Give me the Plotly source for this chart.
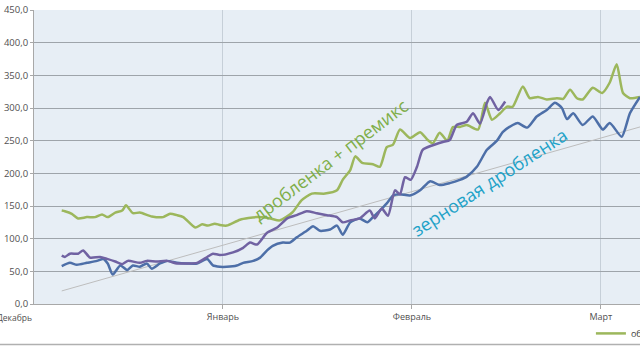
import plotly.graph_objects as go

# time axis: days since 1 December (each month drawn as 30 days, as in the source chart)
month_ticks = [30, 60, 90]
month_labels = ["Январь", "Февраль", "Март"]
first_month_label = "Декабрь"

green_name = "обогащённая дробленка"
green_x = [4.4, 4.9, 6.0, 7.0, 8.4, 9.7, 10.8, 11.7, 12.9, 14.0, 14.6, 15.7, 16.8, 18.7, 20.5, 21.6,
           22.7, 23.7, 25.6, 26.7, 27.6, 28.7, 29.5, 30.6, 32.7, 35.4, 37.5, 39.0, 41.0, 42.5, 44.1,
           46.2, 48.1, 49.0, 50.2, 51.0, 52.1, 53.8, 54.9, 56.0, 57.0, 58.1, 59.7, 61.3, 62.5, 63.3,
           64.4, 65.6, 66.5, 67.6, 68.7, 70.5, 71.6, 72.7, 74.0, 75.1, 76.0, 77.6, 78.7, 80.0, 81.4,
           83.0, 84.0, 85.1, 86.2, 87.1, 88.7, 90.2, 91.4, 92.5, 93.5, 94.6, 96.2]
green_y = [143, 142, 138, 131, 133, 133, 137, 133, 140, 143, 151, 139, 140, 134, 133, 138,
           136, 133, 117, 122, 120, 123, 121, 120, 129, 133, 131, 128, 140, 159, 169,
           169, 174, 190, 205, 226, 216, 214, 210, 240, 244, 267, 254, 263, 251, 246,
           262, 250, 271, 271, 274, 267, 308, 282, 292, 302, 302, 333, 315, 317, 313,
           315, 314, 328, 315, 313, 331, 323, 339, 367, 323, 315, 317]

purple_name = "дробленка"
purple_x = [4.4, 4.9, 5.7, 7.0, 7.8, 8.9, 10.5, 11.6, 12.9, 14.0, 14.9, 16.8, 17.9, 19.5, 21.1, 22.7,
            24.3, 25.9, 27.5, 28.4, 29.5, 31.6, 33.2, 34.3, 35.4, 37.0, 38.6, 40.2, 41.7, 43.3, 44.9,
            46.5, 48.1, 49.0, 50.2, 51.7, 53.3, 54.1, 55.2, 56.2, 57.3, 58.1, 58.9, 59.8, 60.8, 61.7,
            63.3, 64.9, 66.0, 67.1, 68.7, 69.7, 70.8, 71.9, 72.4, 73.7, 74.8]
purple_y = [74, 72, 77, 77, 82, 71, 72, 69, 65, 61, 66, 63, 66, 65, 66, 62,
            62, 63, 72, 77, 75, 79, 86, 94, 91, 109, 117, 131, 136, 142, 139,
            136, 133, 125, 128, 131, 143, 131, 146, 135, 174, 168, 194, 190, 210, 236,
            243, 248, 251, 274, 279, 292, 276, 308, 317, 297, 310]

blue_name = "зерновая дробленка"
blue_x = [4.4, 5.7, 6.8, 8.4, 10.0, 11.0, 11.7, 12.5, 13.7, 14.8, 15.7, 16.8, 17.9, 18.7, 20.0, 21.1,
          22.7, 24.3, 25.9, 27.5, 28.4, 29.5, 30.6, 32.2, 33.2, 34.8, 35.9, 37.0, 37.9, 39.5, 40.6,
          41.7, 43.3, 44.3, 45.4, 47.0, 48.1, 49.0, 50.2, 51.7, 52.9, 53.8, 54.9, 56.0, 57.0, 58.1,
          59.7, 61.3, 62.9, 64.4, 66.0, 67.6, 68.7, 70.3, 71.9, 73.5, 74.4, 76.0, 76.8, 78.3, 79.8,
          81.4, 82.7, 83.8, 84.6, 85.6, 87.1, 88.7, 90.3, 91.4, 93.3, 94.6, 96.2]
blue_y = [58, 63, 60, 63, 66, 69, 62, 45, 59, 52, 59, 57, 62, 54, 62, 66,
          63, 62, 62, 69, 59, 57, 57, 59, 63, 66, 71, 82, 89, 94, 94,
          102, 112, 119, 112, 114, 120, 106, 125, 131, 125, 133, 143, 154, 166, 168,
          166, 174, 188, 182, 185, 190, 195, 210, 236, 250, 263, 274, 277, 270, 287,
          297, 308, 300, 283, 292, 274, 287, 267, 277, 256, 292, 317]

# trend line (start / end values)
trend_x = [4.4, 96.2]
trend_y = [20, 271]

label_green = "дробленка + премикс"
label_blue = "зерновая дробленка"

x_max = 96.2
y_ticks = [0, 50, 100, 150, 200, 250, 300, 350, 400, 450]

fig = go.Figure()
fig.add_trace(go.Scatter(x=trend_x, y=trend_y, mode="lines", showlegend=False,
                         line=dict(color="#BDBDBD", width=1)))
fig.add_trace(go.Scatter(x=green_x, y=green_y, mode="lines", name=green_name,
                         line=dict(color="#9CB75C", width=2.5, shape="spline", smoothing=0.6)))
fig.add_trace(go.Scatter(x=blue_x, y=blue_y, mode="lines", name=blue_name, showlegend=False,
                         line=dict(color="#4D6FA8", width=2.5, shape="spline", smoothing=0.6)))
fig.add_trace(go.Scatter(x=purple_x, y=purple_y, mode="lines", name=purple_name, showlegend=False,
                         line=dict(color="#7062A2", width=2.5, shape="spline", smoothing=0.6)))

fig.add_annotation(x=47.0, y=220, text=label_green, showarrow=False, textangle=-37,
                   font=dict(family="Open Sans", size=18, color="#7FAE4A"))
fig.add_annotation(x=72.3, y=186, text=label_blue, showarrow=False, textangle=-33,
                   font=dict(family="Open Sans", size=18, color="#1FA2C8"))
fig.add_annotation(x=0, y=-0.02, xref="x", yref="paper", text=first_month_label, showarrow=False,
                   xanchor="right", yanchor="top", xshift=0,
                   font=dict(family="Open Sans", size=8.5, color="#505050"))

# spreadsheet rows below the chart
fig.add_shape(type="line", xref="paper", yref="paper", x0=-0.06, x1=1.0, y0=-0.138, y1=-0.138,
              line=dict(color="#B0B0B0", width=1.5), layer="above")

fig.update_layout(
    width=640, height=360,
    margin=dict(l=34, r=0, t=10, b=56, autoexpand=False),
    paper_bgcolor="white",
    plot_bgcolor="#E7EEF5",
    separators=", ",
    font=dict(family="Open Sans", size=9, color="#505050"),
    legend=dict(x=0.919, y=-0.1, xanchor="left", yanchor="middle", orientation="h",
                bgcolor="rgba(0,0,0,0)", font=dict(size=9, color="#404040")),
    xaxis=dict(range=[0, x_max], tickvals=month_ticks, ticktext=month_labels,
               showgrid=True, gridcolor="#C6CFD8", gridwidth=1,
               showline=True, linecolor="#A8A8A8", ticks="outside", ticklen=4,
               tickcolor="#A8A8A8", zeroline=False, tickfont=dict(size=9)),
    yaxis=dict(range=[0, 450], tickvals=y_ticks, tickformat=".1f",
               showgrid=True, gridcolor="#9EA4AA", gridwidth=1,
               showline=True, linecolor="#A8A8A8", ticks="outside", ticklen=3,
               tickcolor="#A8A8A8", zeroline=False, tickfont=dict(size=9.5)),
)

fig.write_html("out.html", config={"displayModeBar": False},
               post_script="document.body.style.margin='0';document.body.style.overflow='hidden';")
